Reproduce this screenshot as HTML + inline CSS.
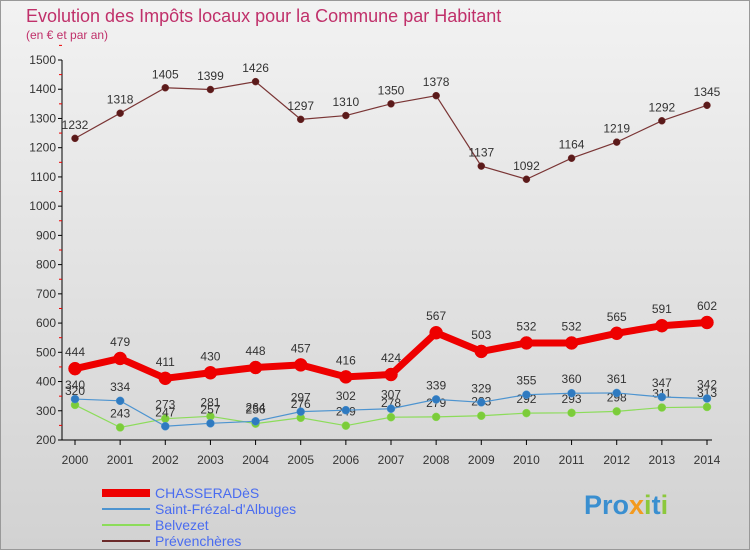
<!DOCTYPE html>
<html><head><meta charset="utf-8"><style>
body{margin:0;width:750px;height:550px;overflow:hidden;font-family:"Liberation Sans",sans-serif}
</style></head><body>
<svg width="750" height="550" xmlns="http://www.w3.org/2000/svg">
<defs><linearGradient id="bg" x1="0" y1="0" x2="0" y2="1"><stop offset="0" stop-color="#f2f2f2"/><stop offset="1" stop-color="#d2d2d2"/></linearGradient></defs>
<rect x="0.5" y="0.5" width="749" height="549" fill="url(#bg)" stroke="#999"/>
<text x="26" y="22" font-size="18" fill="#c0306a">Evolution des Impôts locaux pour la Commune par Habitant</text>
<text x="26" y="39" font-size="12" fill="#c0306a">(en € et par an)</text>
<g id="axes"></g><g id="series"></g>
<g font-size="14">
<line x1="102" y1="493" x2="150" y2="493" stroke="#e00" stroke-width="8"/>
<text x="155" y="498" fill="#4a6cf0">CHASSERADèS</text>
<line x1="102" y1="509" x2="150" y2="509" stroke="#4d94d0" stroke-width="2"/>
<text x="155" y="514" fill="#4a6cf0">Saint-Frézal-d'Albuges</text>
<line x1="102" y1="525" x2="150" y2="525" stroke="#8cdc5a" stroke-width="2"/>
<text x="155" y="530" fill="#4a6cf0">Belvezet</text>
<line x1="102" y1="541" x2="150" y2="541" stroke="#6b2a2a" stroke-width="2"/>
<text x="155" y="546" fill="#4a6cf0">Prévenchères</text>
</g>
<text x="584" y="514" font-size="27" font-weight="bold" fill="#3a8fd0">Pro<tspan fill="#f39a1e">x</tspan><tspan fill="#8cc83c">i</tspan>t<tspan fill="#8cc83c">i</tspan></text>
</svg>
<script>
const years=[2000,2001,2002,2003,2004,2005,2006,2007,2008,2009,2010,2011,2012,2013,2014];
const yTicks=[200,300,400,500,600,700,800,900,1000,1100,1200,1300,1400,1500];
const chasserades=[444,479,411,430,448,457,416,424,567,503,532,532,565,591,602];
const saintFrezal=[340,334,247,257,264,297,302,307,339,329,355,360,361,347,342];
const belvezet=[320,243,273,281,256,276,249,278,279,283,292,293,298,311,313];
const prevencheres=[1232,1318,1405,1399,1426,1297,1310,1350,1378,1137,1092,1164,1219,1292,1345];
const NS="http://www.w3.org/2000/svg";
const xS=i=>75+i*(707-75)/14;
const yS=v=>440-(v-200)*(380/1300);
function mk(t,a,p){const e=document.createElementNS(NS,t);for(const k in a)e.setAttribute(k,a[k]);p.appendChild(e);return e;}
const ax=document.getElementById('axes');
const yl=mk('line',{x1:62,y1:60,x2:62,y2:440,stroke:'#000'},ax);


const xl=mk('line',{x1:62,y1:440,x2:712,y2:440,stroke:'#000'},ax);


yTicks.forEach(v=>{
 mk('line',{x1:58,y1:yS(v),x2:62,y2:yS(v),stroke:'#000'},ax);
 mk('line',{x1:59,y1:yS(v+50),x2:62,y2:yS(v+50),stroke:'#e00'},ax);
 const t=mk('text',{x:56,y:yS(v)+4,'text-anchor':'end','font-size':12,fill:'#333'},ax);
 t.textContent=v;
 
 
});
years.forEach((y,i)=>{
 mk('line',{x1:xS(i),y1:440,x2:xS(i),y2:445,stroke:'#000'},ax);
 const t=mk('text',{x:xS(i),y:464,'text-anchor':'middle','font-size':12,fill:'#333'},ax);
 t.textContent=y;
 
 
});
const sg=document.getElementById('series');
function series(vals,color,w,r,name,dot){
 const g=mk('g',{},sg);
 
 
 const pl=mk('polyline',{points:vals.map((v,i)=>xS(i)+','+yS(v)).join(' '),fill:'none',stroke:color,'stroke-width':w},g);
 
 
 vals.forEach((v,i)=>{
  const c=mk('circle',{cx:xS(i),cy:yS(v),r:r,fill:dot,stroke:color,'stroke-width':0.5},g);
  
  
  const t=mk('text',{x:xS(i),y:yS(v)-r-6,'text-anchor':'middle','font-size':12,fill:'#333'},g);
  t.textContent=v;
  
  
 });
}
series(prevencheres,'#7a3535',1.2,3.5,'prevencheres','#5a1a1a');
series(belvezet,'#8cdc5a',1.2,4,'belvezet','#7ccc3a');
series(saintFrezal,'#4d94d0',1.2,4,'saint-frezal','#2f7ac0');
series(chasserades,'#e00',7,6.5,'chasserades','#e00');
</script>
</body></html>
